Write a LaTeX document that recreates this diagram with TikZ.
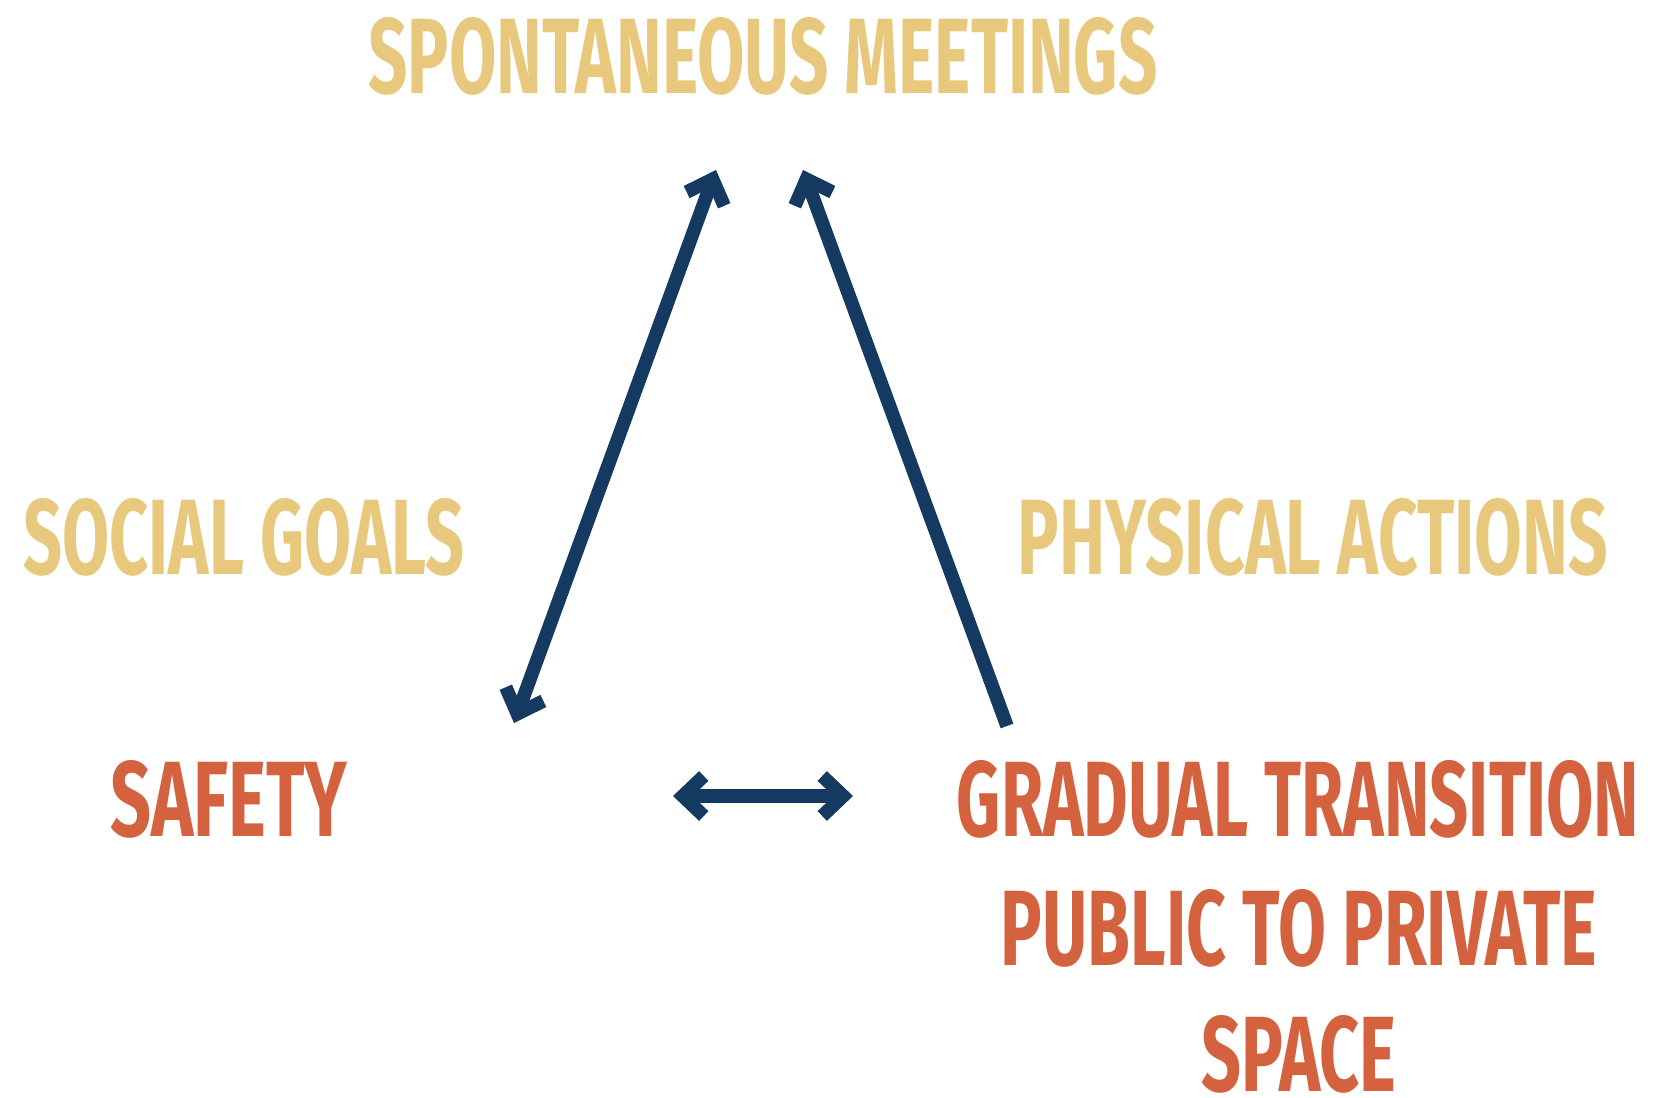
\documentclass[tikz,border=0pt]{standalone}
\usepackage{fontspec}
\setmainfont{Fira Sans}
\usetikzlibrary{arrows.meta}
\definecolor{yel}{HTML}{E8C87C}
\definecolor{ora}{HTML}{D4623F}
\definecolor{navy}{HTML}{143A62}
\newcommand{\fitt}[2]{\resizebox{#1}{76pt}{\bfseries #2}}
\tikzset{
  lab/.style={inner sep=0pt, outer sep=0pt, anchor=center},
  conn/.style={draw=navy, line width=13.5pt, line join=miter},
  tipb/.style={-{Straight Barb[length=21pt,width=40pt,line join=miter]}},
  tipbb/.style={{Straight Barb[length=21pt,width=40pt,line join=miter]}-{Straight Barb[length=21pt,width=40pt,line join=miter]}}
}
\begin{document}
\begin{tikzpicture}[x=1pt,y=-1pt]
\useasboundingbox (0,0) rectangle (1653,1097);
\node[lab, text=yel] (sm) at (763,56) {\fitt{789pt}{SPONTANEOUS MEETINGS}};
\node[lab, text=yel] (sg) at (244,537) {\fitt{441pt}{SOCIAL GOALS}};
\node[lab, text=yel] (pa) at (1313,537) {\fitt{590pt}{PHYSICAL ACTIONS}};
\node[lab, text=ora] (sf) at (229,799) {\fitt{237pt}{SAFETY}};
\node[lab, text=ora] (gt1) at (1298,799) {\fitt{682pt}{GRADUAL TRANSITION}};
\node[lab, text=ora] (gt2) at (1299,928) {\fitt{596pt}{PUBLIC TO PRIVATE}};
\node[lab, text=ora] (gt3) at (1299,1054) {\fitt{195pt}{SPACE}};
\coordinate (la) at (514,723);
\coordinate (lb) at (716,170);
\coordinate (ra) at (1007,726);
\coordinate (rb) at (803,170);
\coordinate (ha) at (673,796);
\coordinate (hb) at (853,796);
\draw[conn, tipbb] (la) -- (lb);
\draw[conn, tipb] (ra) -- (rb);
\draw[conn, tipbb] (ha) -- (hb);
\end{tikzpicture}
\end{document}
